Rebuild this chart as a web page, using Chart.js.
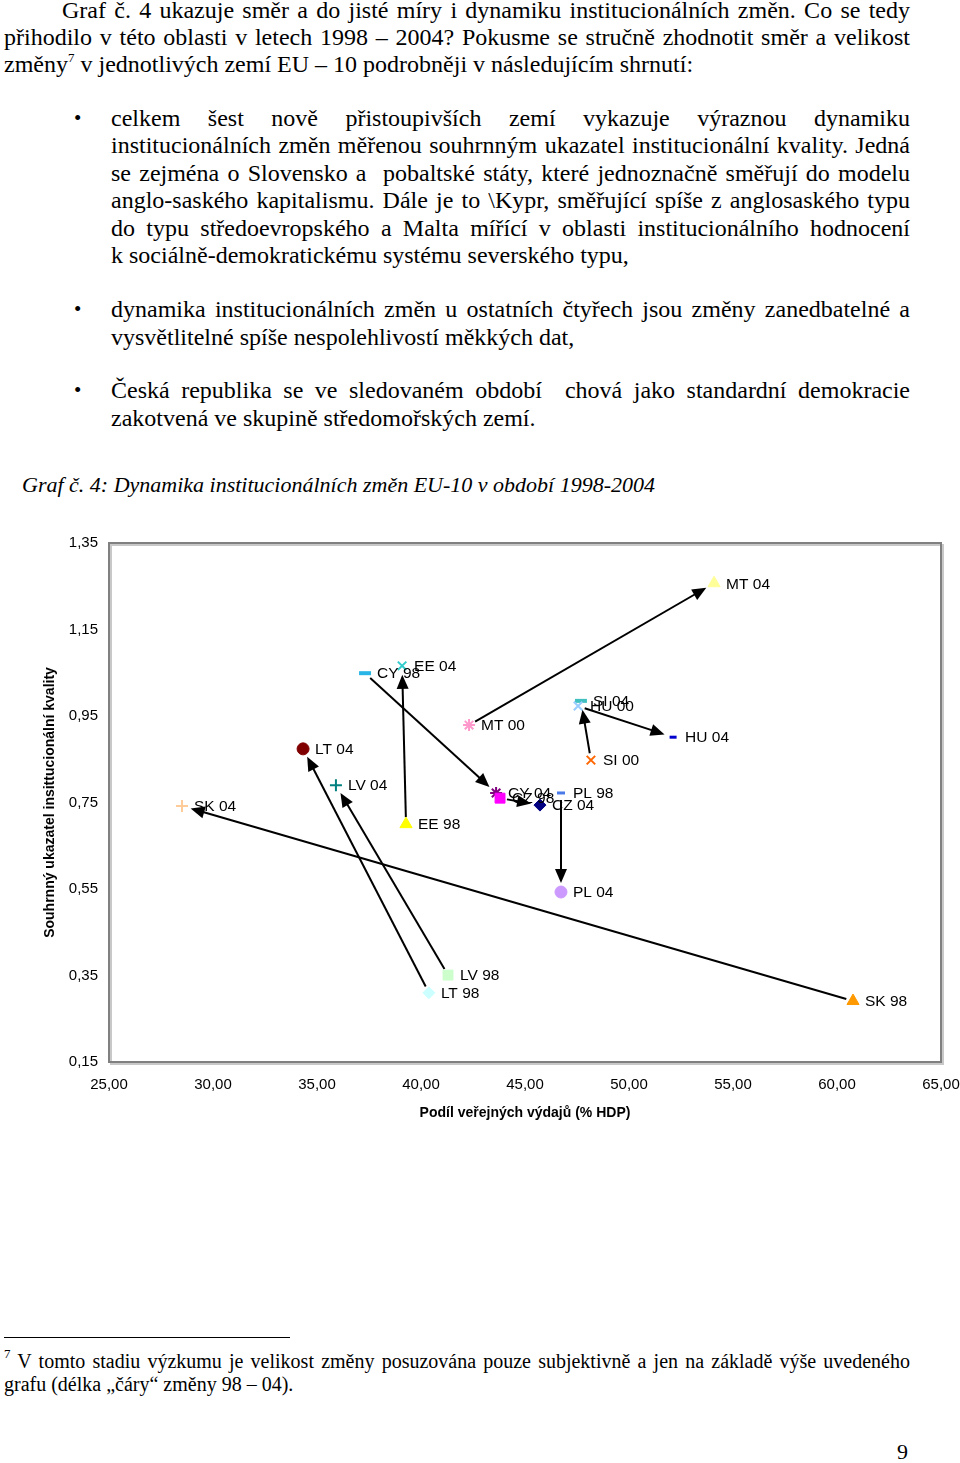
<!DOCTYPE html>
<html lang="cs">
<head>
<meta charset="utf-8">
<script src="https://cdn.jsdelivr.net/npm/chart.js@4"></script>
<style>
  html,body{margin:0;padding:0;background:#fff;}
  body{width:960px;height:1463px;position:relative;overflow:hidden;font-family:"Liberation Serif","Times New Roman",serif;color:#000;}
  .l{position:absolute;font-size:24px;line-height:27px;height:27px;white-space:nowrap;}
  .j{text-align:justify;text-align-last:justify;}
  .b{position:absolute;font-size:21px;line-height:27px;}
  .cap{font-style:italic;font-size:22px;}
  .fn{position:absolute;font-size:20px;line-height:23px;height:23px;white-space:nowrap;}
  sup{font-size:13px;line-height:0;vertical-align:10px;}
  #chartBox{position:absolute;left:0;top:520px;width:960px;height:620px;}
</style>
</head>
<body>
<div class="l j" style="left:62px;width:848px;top:-3px;">Graf č. 4 ukazuje směr a do jisté míry i dynamiku institucionálních změn. Co se tedy</div>
<div class="l j" style="left:4px;width:906px;top:24px;">přihodilo v této oblasti v letech 1998 – 2004? Pokusme se stručně zhodnotit směr a velikost</div>
<div class="l" style="left:4px;top:51px;">změny<sup>7</sup> v jednotlivých zemí EU – 10 podrobněji v následujícím shrnutí:</div>

<div class="b" style="left:74px;top:105px;">•</div>
<div class="l j" style="left:111px;width:799px;top:105px;">celkem šest nově přistoupivších zemí vykazuje výraznou dynamiku</div>
<div class="l j" style="left:111px;width:799px;top:132px;">institucionálních změn měřenou souhrnným ukazatel institucionální kvality. Jedná</div>
<div class="l j" style="left:111px;width:799px;top:160px;">se zejména o Slovensko a&nbsp; pobaltské státy, které jednoznačně směřují do modelu</div>
<div class="l j" style="left:111px;width:799px;top:187px;">anglo-saského kapitalismu. Dále je to \Kypr, směřující spíše z anglosaského typu</div>
<div class="l j" style="left:111px;width:799px;top:215px;">do typu středoevropského a Malta mířící v oblasti institucionálního hodnocení</div>
<div class="l" style="left:111px;top:242px;">k sociálně-demokratickému systému severského typu,</div>

<div class="b" style="left:74px;top:296px;">•</div>
<div class="l j" style="left:111px;width:799px;top:296px;">dynamika institucionálních změn u ostatních čtyřech jsou změny zanedbatelné a</div>
<div class="l" style="left:111px;top:324px;">vysvětlitelné spíše nespolehlivostí měkkých dat,</div>

<div class="b" style="left:74px;top:377px;">•</div>
<div class="l j" style="left:111px;width:799px;top:377px;">Česká republika se ve sledovaném období&nbsp; chová jako standardní demokracie</div>
<div class="l" style="left:111px;top:405px;">zakotvená ve skupině středomořských zemí.</div>

<div class="l cap" style="left:22px;top:471px;">Graf č. 4: Dynamika institucionálních změn EU-10 v období 1998-2004</div>

<div id="chartBox"><canvas id="c" width="960" height="620"></canvas></div>

<div style="position:absolute;left:4px;top:1337px;width:286px;height:1px;background:#000;"></div>
<div class="fn j" style="left:4px;width:906px;top:1350px;"><sup>7</sup> V tomto stadiu výzkumu je velikost změny posuzována pouze subjektivně a jen na základě výše uvedeného</div>
<div class="fn" style="left:4px;top:1373px;">grafu (délka „čáry“ změny 98 – 04).</div>
<div class="l" style="left:897px;top:1438px;font-size:22px;">9</div>

<script>
// ---- data ----
const pointLabels = ['MT 04','CY 98','EE 04','MT 00','SI 04','HU 00','HU 04','SI 00','LT 04','LV 04',
                     'SK 04','EE 98','CY 04','CZ 98','CZ 04','PL 98','PL 04','LV 98','LT 98','SK 98'];
const publicSpending = [54.09,37.31,39.09,42.31,47.69,47.55,52.12,48.17,34.33,35.91,
                        28.51,39.28,43.61,43.80,45.72,46.73,46.73,41.30,40.38,60.77];
const qualityIndex = [1.257,1.049,1.066,0.929,0.985,0.973,0.901,0.848,0.874,0.790,
                      0.742,0.700,0.772,0.760,0.744,0.772,0.543,0.351,0.310,0.291];
const xTickValues = [25,30,35,40,45,50,55,60,65];
const yTickValues = [0.15,0.35,0.55,0.75,0.95,1.15,1.35];
const changeArrows = [['SK 98','SK 04'],['LT 98','LT 04'],['LV 98','LV 04'],['EE 98','EE 04'],
                      ['CY 98','CY 04'],['MT 00','MT 04'],['SI 00','SI 04'],['HU 00','HU 04'],
                      ['CZ 98','CZ 04'],['PL 98','PL 04']];

// ---- marker styles (style, colour, radius, border width) ----
const markerStyles = {
  'MT 04':['triangle','#ffff99',7,1],
  'CY 98':['line','#29b6e6',6,4],
  'EE 04':['crossRot','#33cccc',6,2],
  'MT 00':['star','#ff99cc',6,2],
  'SI 04':['line','#40c0c0',6,4],
  'HU 00':['crossRot','#99ccff',6,2],
  'HU 04':['line','#0000cc',3.5,3],
  'SI 00':['crossRot','#ff6600',6,2],
  'LT 04':['circle','#800000',6,1],
  'LV 04':['cross','#008080',6,2],
  'SK 04':['cross','#ffcc99',6,2],
  'EE 98':['triangle','#ffff00',7,1],
  'CY 04':['star','#800080',6,2],
  'CZ 98':['rect','#ff00ff',7,1],
  'CZ 04':['rectRot','#000080',6,1],
  'PL 98':['line','#4a7ae8',4,3],
  'PL 04':['circle','#cc99ff',6,1],
  'LV 98':['rect','#ccffcc',7,1],
  'LT 98':['rectRot','#ccffff',6,1],
  'SK 98':['triangle','#ff9900',7,1]
};
const ms = ctx => markerStyles[pointLabels[ctx.dataIndex]];

const points = pointLabels.map((lab,i)=>({x:publicSpending[i], y:qualityIndex[i]}));
const fmt = d => v => Number(v).toFixed(2).replace('.',',');
const SANS = "'Liberation Sans', Arial, sans-serif";

const plotFrame = {
  id:'plotFrame',
  beforeDatasetsDraw(chart){
    const {ctx, chartArea:a} = chart;
    ctx.save();
    ctx.strokeStyle = '#c8c8c8'; ctx.lineWidth = 2;
    ctx.strokeRect(a.left+2, a.top+2, a.right-a.left, a.bottom-a.top);
    ctx.strokeStyle = '#808080'; ctx.lineWidth = 2;
    ctx.strokeRect(a.left, a.top, a.right-a.left, a.bottom-a.top);
    ctx.restore();
  }
};

const arrowPlugin = {
  id:'arrows',
  beforeDatasetsDraw(chart){
    const {ctx, scales:{x, y}} = chart;
    const pos = lab => { const i = pointLabels.indexOf(lab);
      return [x.getPixelForValue(publicSpending[i]), y.getPixelForValue(qualityIndex[i])]; };
    ctx.save();
    ctx.strokeStyle = '#000'; ctx.fillStyle = '#000'; ctx.lineWidth = 2;
    changeArrows.forEach(([a,b])=>{
      const [x1,y1] = pos(a), [x2,y2] = pos(b);
      const dx = x2-x1, dy = y2-y1, len = Math.hypot(dx,dy);
      const ux = dx/len, uy = dy/len;
      const sx = x1 + ux*7, sy = y1 + uy*7;
      const tx = x2 - ux*9, ty = y2 - uy*9;
      const hl = 14, hw = 6;
      const bx = tx - ux*hl, by = ty - uy*hl;
      ctx.beginPath(); ctx.moveTo(sx,sy); ctx.lineTo(bx+ux*2,by+uy*2); ctx.stroke();
      ctx.beginPath(); ctx.moveTo(tx,ty);
      ctx.lineTo(bx - uy*hw, by + ux*hw);
      ctx.lineTo(bx + uy*hw, by - ux*hw);
      ctx.closePath(); ctx.fill();
    });
    ctx.restore();
  }
};

const labelPlugin = {
  id:'pointLabels',
  afterDatasetsDraw(chart){
    const {ctx} = chart;
    const meta = chart.getDatasetMeta(0);
    ctx.save();
    ctx.font = '15.5px ' + SANS; ctx.fillStyle = '#000';
    ctx.textAlign = 'left'; ctx.textBaseline = 'middle';
    meta.data.forEach((el,i)=>{ ctx.fillText(pointLabels[i], el.x + 12, el.y + 1); });
    ctx.restore();
  }
};

new Chart(document.getElementById('c'), {
  type:'scatter',
  data:{ datasets:[{
    data: points,
    pointStyle: ctx => ms(ctx)[0],
    pointRadius: ctx => ms(ctx)[2],
    pointHoverRadius: ctx => ms(ctx)[2],
    pointBackgroundColor: ctx => ms(ctx)[1],
    pointBorderColor: ctx => ms(ctx)[1],
    pointBorderWidth: ctx => ms(ctx)[3],
    showLine:false
  }]},
  options:{
    responsive:false, animation:false, devicePixelRatio:1,
    layout:{padding:{top:23,right:19,left:0,bottom:0}},
    plugins:{legend:{display:false}, tooltip:{enabled:false}},
    scales:{
      x:{
        type:'linear', min:25, max:65,
        afterBuildTicks: s => { s.ticks = xTickValues.map(v=>({value:v})); },
        afterFit: s => { s.height = 78; s.paddingLeft = 0; s.paddingRight = 0; },
        grid:{display:false, drawTicks:false}, border:{display:false},
        ticks:{padding:14, color:'#000', font:{family:SANS, size:15}, callback: fmt(2), maxRotation:0, autoSkip:false},
        title:{display:true, text:'Podíl veřejných výdajů (% HDP)', color:'#000',
               font:{family:SANS, size:14, weight:'bold'}, padding:{top:0,bottom:18}}
      },
      y:{
        type:'linear', min:0.15, max:1.35,
        afterBuildTicks: s => { s.ticks = yTickValues.map(v=>({value:v})); },
        afterFit: s => { s.width = 109; s.paddingTop = 0; s.paddingBottom = 0; },
        grid:{display:false, drawTicks:false}, border:{display:false},
        ticks:{padding:11, color:'#000', font:{family:SANS, size:15}, callback: fmt(2), autoSkip:false},
        title:{display:true, text:'Souhrnný ukazatel insittucionální kvality', color:'#000',
               font:{family:SANS, size:14, weight:'bold'}, padding:{top:42,bottom:0}}
      }
    }
  },
  plugins:[plotFrame, arrowPlugin, labelPlugin]
});
</script>
</body>
</html>
